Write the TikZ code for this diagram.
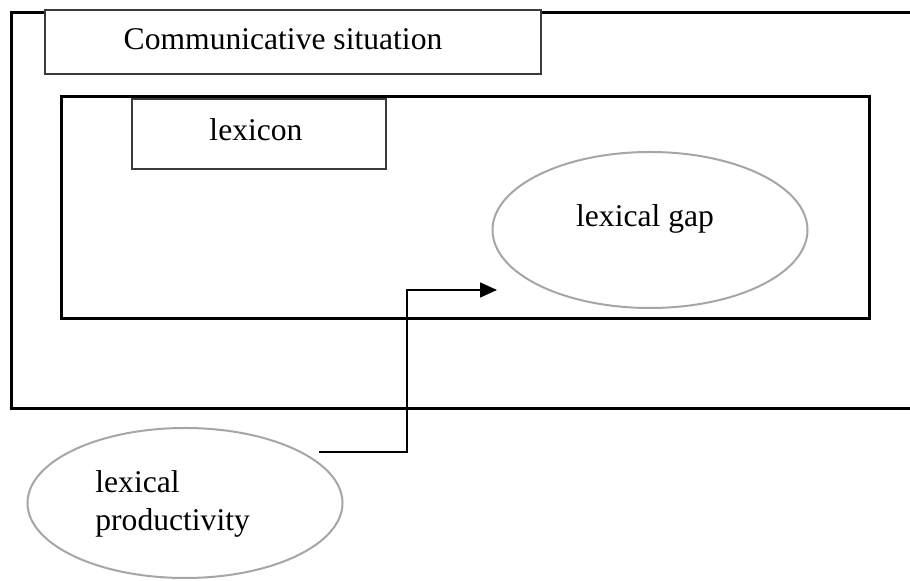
\documentclass[tikz,border=0pt]{standalone}
\usepackage{fontspec}
\setmainfont{Liberation Serif}
\usetikzlibrary{shapes.geometric,arrows.meta}
\definecolor{ellgray}{HTML}{A6A6A6}
\definecolor{boxgray}{HTML}{3A3A3A}
\tikzset{
  frame/.style={draw=black,line width=1.5pt},
  labelbox/.style={draw=boxgray,line width=0.8pt,fill=white,rectangle,inner sep=0pt},
  ell/.style={draw=ellgray,line width=1pt,ellipse,inner sep=0pt,fill=white},
  txt/.style={inner sep=0pt,anchor=base,font=\fontsize{15.8}{19}\selectfont},
  conn/.style={draw=black,line width=0.8pt,-{Triangle[length=8.5pt,width=7.5pt]}}
}
\begin{document}
\begin{tikzpicture}[x=0.5pt,y=-0.5pt]
\clip (0,0) rectangle (910,581);
\fill[white] (0,0) rectangle (910,581);
% outer frame (communicative situation)
\draw[frame] (11,13) rectangle (930,409);
% inner frame (lexicon)
\draw[frame] (61,97) rectangle (869,319);
% boxes
\node[labelbox,minimum width=248pt,minimum height=32pt] (comm) at (293,42) {};
\node[txt] (commtxt) at (283,50) {Communicative situation};
\node[labelbox,minimum width=127pt,minimum height=35pt] (lex) at (259,134) {};
\node[txt] (lextxt) at (256,141) {lexicon};
% ellipses
\node[ell,minimum width=157.5pt,minimum height=78pt] (gap) at (650,230) {};
\node[txt] (gaptxt) at (645,227) {lexical gap};
\node[ell,minimum width=157.5pt,minimum height=75pt] (prod) at (185,503) {};
\node[txt,anchor=base west] (prodtxt1) at (95,493) {lexical};
\node[txt,anchor=base west] (prodtxt2) at (95,531) {productivity};
% connector
\coordinate (a0) at (319,452);
\coordinate (bend) at (407,290);
\coordinate (a1) at (497,290);
\draw[conn] (a0) -| (bend) -- (a1);
\end{tikzpicture}
\end{document}
